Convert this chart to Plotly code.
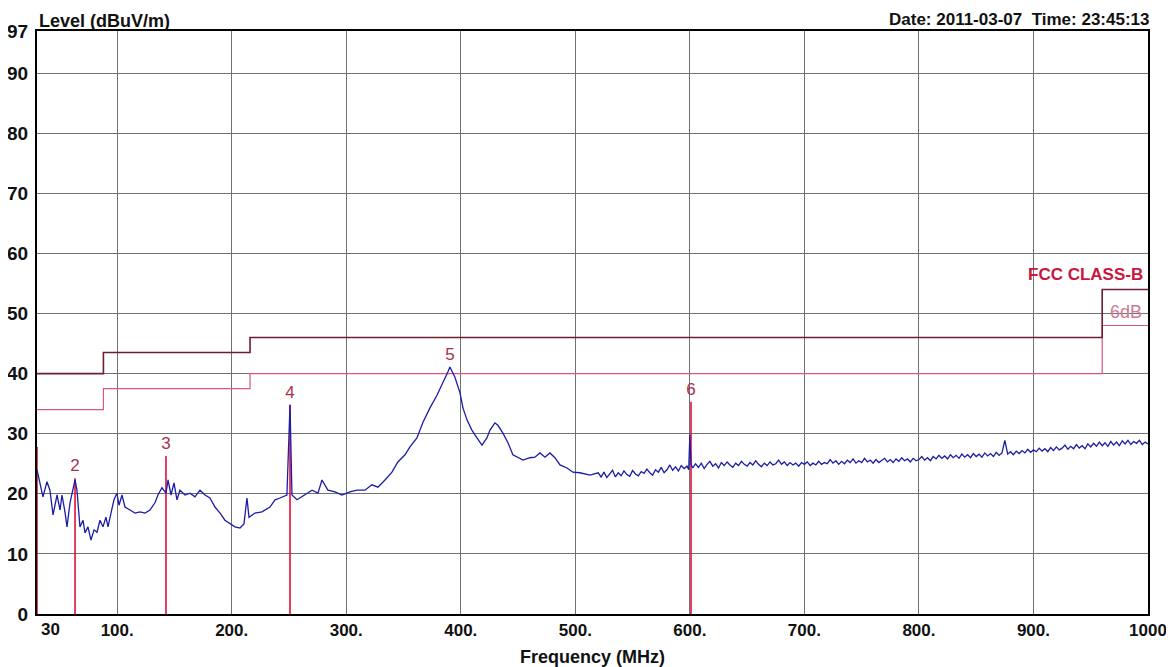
import plotly.graph_objects as go

# ---------------- data ----------------
freq_low = [30, 32.6, 35.2, 38.7, 41.3, 44.0, 47.5, 50.1, 51.8, 54.4, 56.2, 58.8, 61.4, 63.2, 64.9,
            67.5, 70.2, 71.9, 74.5, 77.1, 79.8, 82.4, 85.0, 87.6, 90.2, 92.0, 94.6, 97.2, 99.8,
            101.6, 104.2, 106.8, 111.2, 115.6, 119.9, 124.3, 128.6, 133.0, 135.6, 139.1, 142.6,
            144.4, 147.0, 149.6, 152.2, 154.8, 159.2, 163.6, 167.9, 172.3, 176.7, 181.0, 185.4,
            189.8, 194.1, 198.5, 202.8, 207.2, 210.7, 213.3, 215.1, 220.3, 226.4, 233.4, 237.8,
            242.1, 248.2, 250.9, 252.6, 257.0, 264.0, 270.1, 275.3, 278.8, 284.0, 290.2, 296.3,
            303.2, 309.4, 316.3, 322.4, 327.7, 333.8, 339.9, 345.1, 351.3, 355.6, 361.7, 367.0,
            373.1, 379.2, 384.4, 388.8, 390.5, 394.9, 399.3, 401.9, 405.4, 409.7, 414.1, 418.5,
            422.8, 425.5, 429.8, 432.4, 436.8, 441.2, 445.5, 449.9, 454.3, 460.4, 464.7, 469.1,
            473.5, 477.8, 482.2, 486.6, 492.7, 497.9, 504.0, 512.8, 517.5]
level_low = [24.0, 21.8, 19.5, 22.0, 20.6, 16.5, 19.8, 17.3, 19.8, 17.0, 14.5, 18.5, 20.6, 22.3, 20.6,
             14.5, 15.6, 13.5, 14.5, 12.3, 14.0, 13.6, 15.6, 14.5, 16.1, 14.5, 16.8, 19.0, 20.1,
             18.1, 19.8, 17.8, 17.3, 16.8, 17.0, 16.8, 17.3, 18.5, 19.8, 21.0, 20.1,
             22.3, 19.8, 21.8, 19.0, 20.6, 19.8, 20.1, 19.5, 20.6, 19.8, 19.3, 17.8,
             16.8, 15.6, 15.0, 14.5, 14.3, 15.0, 19.3, 16.1, 16.8, 17.0, 17.8, 19.0,
             19.3, 19.8, 34.8, 19.8, 19.0, 19.8, 20.6, 20.1, 22.3, 20.6, 20.3, 19.8,
             20.3, 20.6, 20.6, 21.5, 21.1, 22.3, 23.6, 25.3, 26.5, 27.8, 29.3, 31.9,
             34.3, 36.4, 38.4, 40.3, 41.1, 39.4, 36.8, 34.3, 32.3, 30.6, 29.3, 28.1,
             29.3, 30.6, 31.8, 31.4, 30.1, 28.5, 26.5, 26.0, 25.6, 26.0, 26.1, 26.8,
             26.1, 26.8, 26.0, 24.8, 24.3, 23.6, 23.5, 23.1, 23.4]

freq_high = [520, 522.5, 525, 527.5, 530, 532.5, 535, 537.5, 540, 542.5, 545, 547.5, 550, 552.5,
             555, 557.5, 560, 562.5, 565, 567.5, 570, 572.5, 575, 577.5, 580, 582.5, 585, 587.5,
             590, 592.5, 595, 597.5, 599, 600, 601, 602.5, 605, 607.5, 610, 612.5, 615, 617.5,
             620, 622.5, 625, 627.5, 630, 632.5, 635, 637.5, 640, 642.5, 645, 647.5, 650, 652.5,
             655, 657.5, 660, 662.5, 665, 667.5, 670, 672.5, 675, 677.5, 680, 682.5, 685, 687.5,
             690, 692.5, 695, 697.5, 700, 702.5, 705, 707.5, 710, 712.5, 715, 717.5, 720, 722.5,
             725, 727.5, 730, 732.5, 735, 737.5, 740, 742.5, 745, 747.5, 750, 752.5, 755, 757.5,
             760, 762.5, 765, 767.5, 770, 772.5, 775, 777.5, 780, 782.5, 785, 787.5, 790, 792.5,
             795, 797.5, 800, 802.5, 805, 807.5, 810, 812.5, 815, 817.5, 820, 822.5, 825, 827.5,
             830, 832.5, 835, 837.5, 840, 842.5, 845, 847.5, 850, 852.5, 855, 857.5, 860, 862.5,
             865, 867.5, 870, 872.5, 875, 877.5, 880, 882.5, 885, 887.5, 890, 892.5, 895, 897.5,
             900, 902.5, 905, 907.5, 910, 912.5, 915, 917.5, 920, 922.5, 925, 927.5, 930, 932.5,
             935, 937.5, 940, 942.5, 945, 947.5, 950, 952.5, 955, 957.5, 960, 962.5, 965, 967.5,
             970, 972.5, 975, 977.5, 980, 982.5, 985, 987.5, 990, 992.5, 995, 997.5, 1000]
level_high = [23.5, 22.8, 23.6, 22.7, 23.4, 23.9, 22.8, 23.5, 23.0, 23.8, 23.2, 22.9, 23.9, 23.3,
              23.0, 23.7, 23.4, 24.1, 23.5, 23.1, 24.0, 23.6, 24.4, 23.5, 24.0, 24.8, 23.9, 24.5,
              23.8, 24.7, 24.2, 24.6, 24.0, 29.8, 24.9, 24.3, 25.0, 24.4, 25.1, 24.2, 24.9, 25.4,
              24.6, 25.0, 24.3, 25.2, 24.7, 25.3, 24.8, 24.4, 25.1, 24.7, 25.4, 24.9, 24.6, 25.2,
              24.8, 25.5, 24.9, 24.5, 25.1, 24.7, 25.3, 24.8, 25.0, 25.6, 24.9, 25.3, 24.7, 25.2,
              24.8, 25.1, 24.6, 25.2, 24.9, 25.3, 24.7, 25.1, 24.8, 25.4, 24.9, 25.2, 25.0, 25.7,
              25.1, 25.5, 24.9, 25.4, 25.0, 25.6, 25.2, 25.8, 25.1, 25.5, 25.2, 25.9, 25.3, 25.6,
              25.1, 25.7, 25.2, 25.5, 25.9, 25.3, 25.7, 25.2, 25.8, 25.4, 26.0, 25.5, 25.8, 25.3,
              25.9, 25.5, 25.7, 26.2, 25.6, 26.0, 25.5, 26.2, 25.8, 26.4, 25.9, 26.3, 25.8, 26.5,
              26.0, 26.4, 25.9, 26.6, 26.1, 26.5, 26.0, 26.7, 26.2, 26.6, 26.1, 26.8, 26.3, 26.7,
              26.2, 26.9, 26.4, 26.8, 28.9, 26.6, 27.0, 26.5, 27.1, 26.7, 27.2, 26.8, 27.4, 26.9,
              27.3, 27.0, 27.6, 27.1, 27.5, 27.0, 27.7, 27.2, 27.8, 27.3, 27.6, 28.1, 27.4, 27.9,
              27.5, 28.2, 27.6, 28.0, 27.5, 28.3, 27.8, 28.4, 27.9, 28.6, 28.0, 28.5, 27.9, 28.7,
              28.1, 28.6, 28.0, 28.8, 28.3, 28.9, 28.2, 28.7, 28.4, 28.9, 28.2, 28.6, 28.3]

freq_mhz = freq_low + freq_high
level_dbuv = level_low + level_high
n = min(len(freq_mhz), len(level_dbuv))
freq_mhz, level_dbuv = freq_mhz[:n], level_dbuv[:n]

# FCC Class B limit (step line) and 6 dB margin line
limit_freq = [30, 88, 88, 216, 216, 960, 960, 1000]
limit_level = [40, 40, 43.5, 43.5, 46, 46, 54, 54]
margin_db = 6
margin_level = [v - margin_db for v in limit_level]

# markers
marker_labels = ["1", "2", "3", "4", "5", "6"]
marker_freq = [30, 63.2, 142.6, 250.9, 390.5, 601]
marker_level = [27.8, 22.6, 26.3, 34.8, 41.1, 35.3]
marker_has_line = [True, True, True, True, False, True]
marker_show_label = [False, True, True, True, True, True]

x_ticks = [30, 100, 200, 300, 400, 500, 600, 700, 800, 900, 1000]
x_ticktext = ["", "100.", "200.", "300.", "400.", "500.", "600.", "700.",
              "800.", "900.", "1000"]
x_first_label = "30"
y_ticks = [0, 10, 20, 30, 40, 50, 60, 70, 80, 90, 97]

# ---------------- figure ----------------
fig = go.Figure()

for f, lv, has in zip(marker_freq, marker_level, marker_has_line):
    if has:
        fig.add_trace(go.Scatter(x=[f, f], y=[0, lv], mode="lines",
                                 line=dict(color="#e0103a", width=1.6),
                                 showlegend=False, hoverinfo="skip"))

fig.add_trace(go.Scatter(x=limit_freq, y=margin_level, mode="lines",
                         line=dict(color="#d9577a", width=1.2),
                         showlegend=False, hoverinfo="skip"))
fig.add_trace(go.Scatter(x=limit_freq, y=limit_level, mode="lines",
                         line=dict(color="#6e1e30", width=1.6),
                         showlegend=False, hoverinfo="skip"))

fig.add_trace(go.Scatter(x=freq_mhz, y=level_dbuv, mode="lines",
                         line=dict(color="#1c1ca6", width=1.3),
                         showlegend=False))

lab_x = [f for f, s in zip(marker_freq, marker_show_label) if s]
lab_y = [lv + 0.5 for lv, s in zip(marker_level, marker_show_label) if s]
lab_t = [t for t, s in zip(marker_labels, marker_show_label) if s]
fig.add_trace(go.Scatter(x=lab_x, y=lab_y, mode="text", text=lab_t,
                         textposition="top center",
                         textfont=dict(family="Liberation Sans", size=17, color="#a8304e"),
                         showlegend=False, hoverinfo="skip"))

fig.add_annotation(x=1000, y=56.5, xref="x", yref="y", text="<b>FCC CLASS-B</b>",
                   showarrow=False, xanchor="right", yanchor="middle", xshift=-3,
                   font=dict(family="Liberation Sans", size=17, color="#c8163f"))
fig.add_annotation(x=1000, y=50.2, xref="x", yref="y", text="6dB",
                   showarrow=False, xanchor="right", yanchor="middle", xshift=-4,
                   font=dict(family="Liberation Sans", size=18, color="#d07a95"))

# first x tick label, placed just right of the left axis as in the original
fig.add_annotation(x=30, y=0, xref="x", yref="paper", text="<b>" + x_first_label + "</b>",
                   showarrow=False, xanchor="left", yanchor="top", xshift=2, yshift=-4,
                   font=dict(family="Liberation Sans", size=17, color="#111"))

# page body has an 8px margin, so the figure is drawn 8px right and 8px down
fig.add_annotation(x=0, y=1, xref="paper", yref="paper", text="<b>Level (dBuV/m)</b>",
                   showarrow=False, xanchor="left", yanchor="bottom", yshift=-2,
                   font=dict(family="Liberation Sans", size=18, color="#111"))
fig.add_annotation(x=1.004, y=1.0395, xref="paper", yref="paper",
                   text="<b>Date: 2011-03-07  Time: 23:45:13</b>",
                   showarrow=False, xanchor="right", yanchor="top",
                   font=dict(family="Liberation Sans", size=17, color="#111"))
fig.add_annotation(x=0.5, y=0, xref="paper", yref="paper", text="<b>Frequency (MHz)</b>",
                   showarrow=False, xanchor="center", yanchor="top", yshift=-31,
                   font=dict(family="Liberation Sans", size=18, color="#111"))

fig.update_layout(
    width=1166, height=659,
    margin=dict(l=29, r=26, t=23, b=53),
    paper_bgcolor="white", plot_bgcolor="white",
    font=dict(family="Liberation Sans"),
)
fig.update_xaxes(range=[30, 1000], tickvals=x_ticks, ticktext=x_ticktext,
                 showgrid=True, gridcolor="#707070", gridwidth=1,
                 showline=True, linecolor="black", linewidth=2, mirror=True,
                 ticks="", zeroline=False, automargin=False, ticklabelstandoff=0,
                 tickfont=dict(family="Liberation Sans", size=17, color="#111", weight="bold"))
fig.update_yaxes(range=[0, 97], tickvals=y_ticks,
                 showgrid=True, gridcolor="#707070", gridwidth=1,
                 showline=True, linecolor="black", linewidth=2, mirror=True,
                 ticks="", zeroline=False, automargin=False, ticklabelstandoff=3,
                 tickfont=dict(family="Liberation Sans", size=19, color="#111", weight="bold"))

fig.write_html("out.html")
